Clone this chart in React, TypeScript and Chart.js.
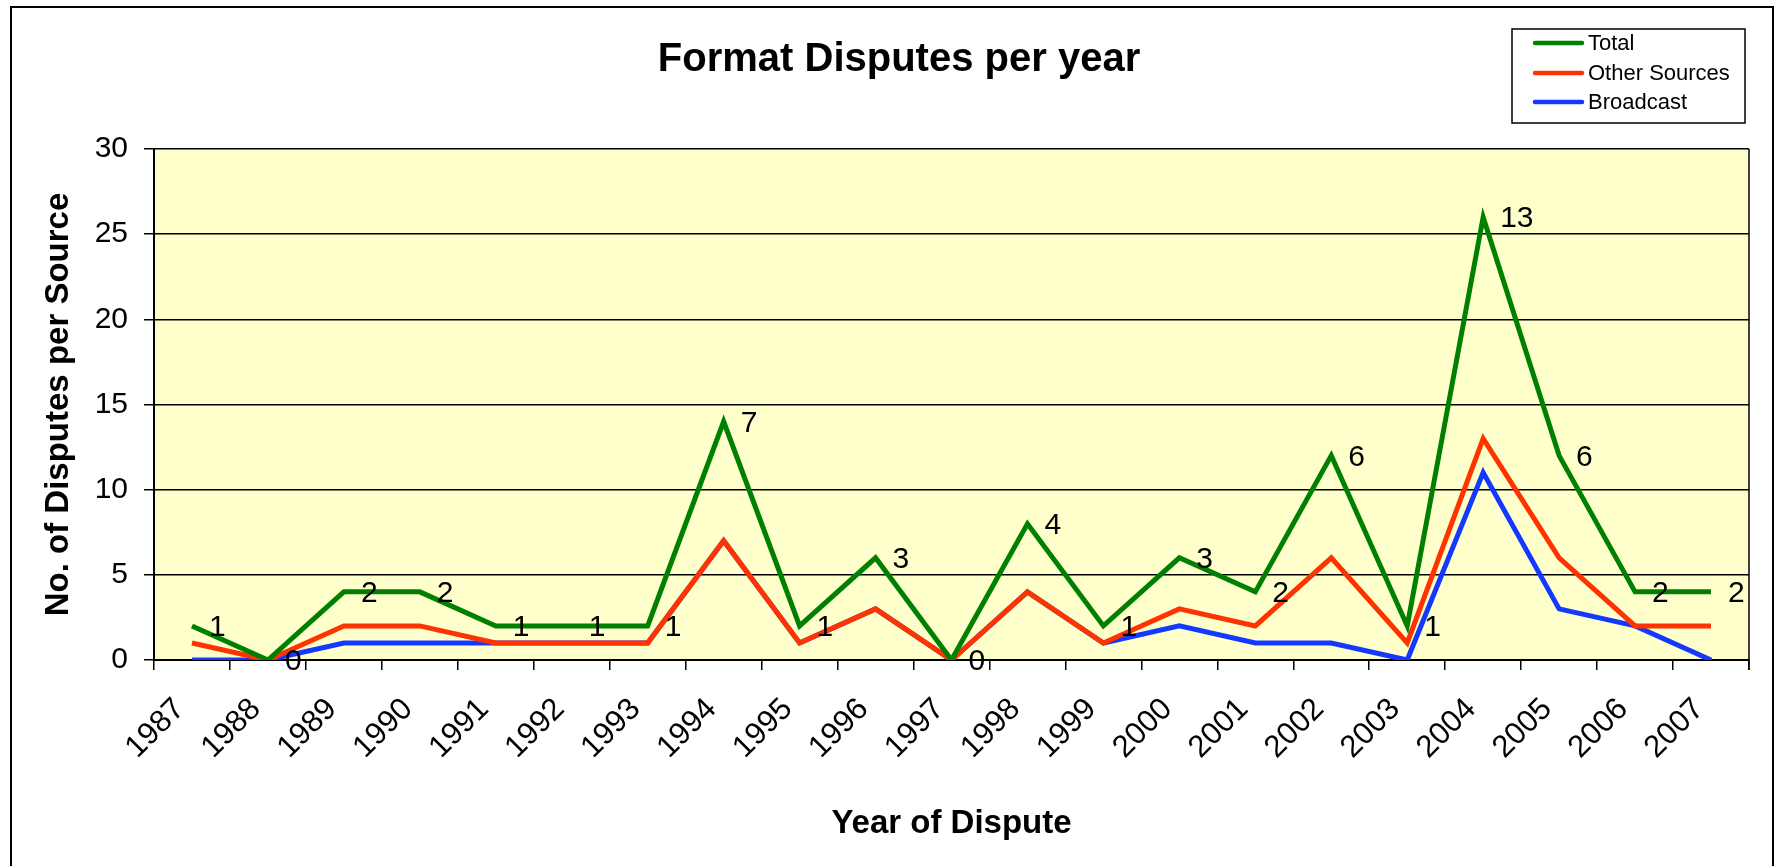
import React, { useEffect, useRef } from 'react';
import { Chart, registerables } from 'chart.js';

Chart.register(...registerables);

const years = ['1987','1988','1989','1990','1991','1992','1993','1994','1995','1996','1997','1998','1999','2000','2001','2002','2003','2004','2005','2006','2007'];
const broadcast = [0,0,1,1,1,1,1,7,1,3,0,4,1,2,1,1,0,11,3,2,0];
const otherSources = [1,0,1,1,0,0,0,0,0,0,0,0,0,1,1,5,1,2,3,0,2];
const total = [1,0,2,2,1,1,1,7,1,3,0,4,1,3,2,6,1,13,6,2,2];
const yTicks = [0,5,10,15,20,25,30];

const FONT = "'Liberation Sans', Arial, sans-serif";

// stacked line chart (Excel style): Broadcast, then Other Sources on top, then Total on top
const otherStacked = otherSources.map((v, i) => v + broadcast[i]);
const totalStacked = total.map((v, i) => v + otherStacked[i]);

const decorPlugin = {
  id: 'decor',
  beforeDraw(chart: any) {
    const { ctx, chartArea: a } = chart;
    ctx.save();
    ctx.fillStyle = '#ffffff';
    ctx.fillRect(0, 0, chart.width, chart.height);
    ctx.fillStyle = '#FFFFCC';
    ctx.fillRect(a.left, a.top, a.right - a.left, a.bottom - a.top);
    ctx.restore();
  },
  afterDatasetsDraw(chart: any) {
    const { ctx } = chart;
    const meta = chart.getDatasetMeta(0);
    ctx.save();
    ctx.font = `30px ${FONT}`;
    ctx.fillStyle = '#000';
    ctx.textAlign = 'left';
    ctx.textBaseline = 'middle';
    meta.data.forEach((pt: any, i: number) => {
      ctx.fillText(String(total[i]), pt.x + 17, pt.y + 2);
    });
    ctx.restore();
  },
  afterDraw(chart: any) {
    const { ctx, chartArea: a } = chart;
    ctx.save();
    // plot area right border
    ctx.strokeStyle = '#000';
    ctx.lineWidth = 1.5;
    ctx.beginPath();
    ctx.moveTo(a.right, a.top);
    ctx.lineTo(a.right, a.bottom + 10);
    ctx.stroke();
    // outer chart border
    ctx.lineWidth = 2;
    ctx.strokeRect(11, 7, 1762, 1000);
    // title
    ctx.fillStyle = '#000';
    ctx.font = `bold 40px ${FONT}`;
    ctx.textAlign = 'center';
    ctx.textBaseline = 'middle';
    ctx.fillText('Format Disputes per year', 899, 60);
    // legend
    ctx.lineWidth = 1.5;
    ctx.strokeRect(1512, 29, 233, 94);
    ctx.font = `22px ${FONT}`;
    ctx.textAlign = 'left';
    const rows = [43, 73, 102];
    chart.data.datasets.forEach((ds: any, i: number) => {
      const y = rows[i];
      ctx.strokeStyle = ds.borderColor;
      ctx.lineWidth = 4.5;
      ctx.lineCap = 'round';
      ctx.beginPath();
      ctx.moveTo(1535, y);
      ctx.lineTo(1582, y);
      ctx.stroke();
      ctx.fillStyle = '#000';
      ctx.fillText(ds.label, 1588, y + 1);
    });
    ctx.restore();
  },
};

export default function App() {
  const ref = useRef<HTMLCanvasElement | null>(null);
  useEffect(() => {
    document.body.style.margin = '0';
    const canvas = ref.current!;
    const chart = new Chart(canvas, {
      type: 'line',
      data: {
        labels: years,
        datasets: [
          { label: 'Total', data: totalStacked, borderColor: '#008000', backgroundColor: '#008000', borderWidth: 5, pointRadius: 0, tension: 0, fill: false },
          { label: 'Other Sources', data: otherStacked, borderColor: '#FF3300', backgroundColor: '#FF3300', borderWidth: 5, pointRadius: 0, tension: 0, fill: false },
          { label: 'Broadcast', data: broadcast, borderColor: '#1438FF', backgroundColor: '#1438FF', borderWidth: 5, pointRadius: 0, tension: 0, fill: false },
        ],
      },
      options: {
        responsive: false,
        animation: false,
        devicePixelRatio: 1,
        layout: { padding: { left: 12, right: 33, top: 149, bottom: 0 } },
        plugins: {
          legend: { display: false },
          title: { display: false },
          tooltip: { enabled: false },
        },
        scales: {
          x: {
            type: 'category',
            offset: true,
            grid: { display: true, offset: true, drawOnChartArea: false, drawTicks: true, tickLength: 10, color: '#000', lineWidth: 1.5 },
            border: { display: true, color: '#000', width: 2 },
            ticks: { color: '#000', font: { family: FONT, size: 31 }, minRotation: 45, maxRotation: 45, padding: 21, labelOffset: -12, autoSkip: false },
            title: { display: true, text: 'Year of Dispute', color: '#000', font: { family: FONT, size: 33, weight: 'bold' }, padding: { top: 0, bottom: 22 } },
            afterFit(scale: any) { scale.height = 866 - 660; },
          },
          y: {
            min: 0,
            max: 30,
            afterBuildTicks(scale: any) { scale.ticks = yTicks.map((v) => ({ value: v })); },
            grid: { color: '#000', lineWidth: 1.5, drawTicks: true, tickLength: 10 },
            border: { display: true, color: '#000', width: 2 },
            ticks: { color: '#000', font: { family: FONT, size: 30 }, padding: 16 },
            title: { display: true, text: 'No. of Disputes per Source', color: '#000', font: { family: FONT, size: 33, weight: 'bold' }, padding: { top: 27, bottom: 0 } },
            afterFit(scale: any) { scale.width = 142; },
          },
        },
      },
      plugins: [decorPlugin],
    } as any);
    return () => chart.destroy();
  }, []);
  return <canvas ref={ref} width={1782} height={866} style={{ display: 'block', width: 1782, height: 866 }} />;
}
